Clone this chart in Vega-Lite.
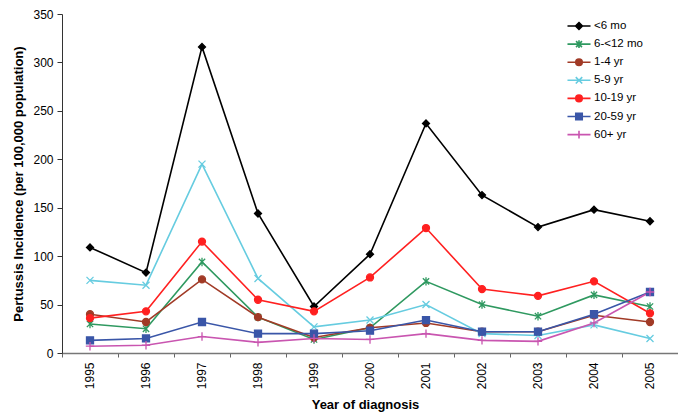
{
  "$schema": "https://vega.github.io/schema/vega-lite/v6.json",
  "width": 616,
  "height": 339,
  "autosize": {"type": "none"},
  "padding": {"left": 62, "top": 14, "right": 0, "bottom": 66},
  "background": "white",
  "config": {"font": "Liberation Sans", "view": {"stroke": null}},
  "data": {"values": [
    {"year": "1995", "group": "<6 mo", "value": 109},
    {"year": "1996", "group": "<6 mo", "value": 83},
    {"year": "1997", "group": "<6 mo", "value": 316},
    {"year": "1998", "group": "<6 mo", "value": 144},
    {"year": "1999", "group": "<6 mo", "value": 48},
    {"year": "2000", "group": "<6 mo", "value": 102},
    {"year": "2001", "group": "<6 mo", "value": 237},
    {"year": "2002", "group": "<6 mo", "value": 163},
    {"year": "2003", "group": "<6 mo", "value": 130},
    {"year": "2004", "group": "<6 mo", "value": 148},
    {"year": "2005", "group": "<6 mo", "value": 136},
    {"year": "1995", "group": "6-<12 mo", "value": 30},
    {"year": "1996", "group": "6-<12 mo", "value": 25},
    {"year": "1997", "group": "6-<12 mo", "value": 94},
    {"year": "1998", "group": "6-<12 mo", "value": 37},
    {"year": "1999", "group": "6-<12 mo", "value": 14},
    {"year": "2000", "group": "6-<12 mo", "value": 26},
    {"year": "2001", "group": "6-<12 mo", "value": 74},
    {"year": "2002", "group": "6-<12 mo", "value": 50},
    {"year": "2003", "group": "6-<12 mo", "value": 38},
    {"year": "2004", "group": "6-<12 mo", "value": 60},
    {"year": "2005", "group": "6-<12 mo", "value": 48},
    {"year": "1995", "group": "1-4 yr", "value": 40},
    {"year": "1996", "group": "1-4 yr", "value": 32},
    {"year": "1997", "group": "1-4 yr", "value": 76},
    {"year": "1998", "group": "1-4 yr", "value": 37},
    {"year": "1999", "group": "1-4 yr", "value": 16},
    {"year": "2000", "group": "1-4 yr", "value": 26},
    {"year": "2001", "group": "1-4 yr", "value": 31},
    {"year": "2002", "group": "1-4 yr", "value": 22},
    {"year": "2003", "group": "1-4 yr", "value": 22},
    {"year": "2004", "group": "1-4 yr", "value": 39},
    {"year": "2005", "group": "1-4 yr", "value": 32},
    {"year": "1995", "group": "5-9 yr", "value": 75},
    {"year": "1996", "group": "5-9 yr", "value": 70},
    {"year": "1997", "group": "5-9 yr", "value": 195},
    {"year": "1998", "group": "5-9 yr", "value": 77},
    {"year": "1999", "group": "5-9 yr", "value": 27},
    {"year": "2000", "group": "5-9 yr", "value": 34},
    {"year": "2001", "group": "5-9 yr", "value": 50},
    {"year": "2002", "group": "5-9 yr", "value": 20},
    {"year": "2003", "group": "5-9 yr", "value": 18},
    {"year": "2004", "group": "5-9 yr", "value": 29},
    {"year": "2005", "group": "5-9 yr", "value": 15},
    {"year": "1995", "group": "10-19 yr", "value": 36},
    {"year": "1996", "group": "10-19 yr", "value": 43},
    {"year": "1997", "group": "10-19 yr", "value": 115},
    {"year": "1998", "group": "10-19 yr", "value": 55},
    {"year": "1999", "group": "10-19 yr", "value": 43},
    {"year": "2000", "group": "10-19 yr", "value": 78},
    {"year": "2001", "group": "10-19 yr", "value": 129},
    {"year": "2002", "group": "10-19 yr", "value": 66},
    {"year": "2003", "group": "10-19 yr", "value": 59},
    {"year": "2004", "group": "10-19 yr", "value": 74},
    {"year": "2005", "group": "10-19 yr", "value": 41},
    {"year": "1995", "group": "20-59 yr", "value": 13},
    {"year": "1996", "group": "20-59 yr", "value": 15},
    {"year": "1997", "group": "20-59 yr", "value": 32},
    {"year": "1998", "group": "20-59 yr", "value": 20},
    {"year": "1999", "group": "20-59 yr", "value": 20},
    {"year": "2000", "group": "20-59 yr", "value": 23},
    {"year": "2001", "group": "20-59 yr", "value": 34},
    {"year": "2002", "group": "20-59 yr", "value": 22},
    {"year": "2003", "group": "20-59 yr", "value": 22},
    {"year": "2004", "group": "20-59 yr", "value": 40},
    {"year": "2005", "group": "20-59 yr", "value": 63},
    {"year": "1995", "group": "60+ yr", "value": 7},
    {"year": "1996", "group": "60+ yr", "value": 8},
    {"year": "1997", "group": "60+ yr", "value": 17},
    {"year": "1998", "group": "60+ yr", "value": 11},
    {"year": "1999", "group": "60+ yr", "value": 15},
    {"year": "2000", "group": "60+ yr", "value": 14},
    {"year": "2001", "group": "60+ yr", "value": 20},
    {"year": "2002", "group": "60+ yr", "value": 13},
    {"year": "2003", "group": "60+ yr", "value": 12},
    {"year": "2004", "group": "60+ yr", "value": 31},
    {"year": "2005", "group": "60+ yr", "value": 63}
  ]},
  "encoding": {
    "x": {
      "field": "year",
      "type": "ordinal",
      "scale": {"type": "band", "paddingInner": 0, "paddingOuter": 0},
      "axis": {
        "title": "Year of diagnosis",
        "titleFontSize": 13,
        "titleFontWeight": "bold",
        "titleColor": "black",
        "titleX": 303,
        "titleAlign": "center",
        "titlePadding": 10,
        "bandPosition": 0,
        "labelAngle": 270,
        "labelFontSize": 12,
        "labelColor": "black",
        "labelPadding": 5,
        "tickSize": 4,
        "tickColor": "#666666",
        "domainColor": "#777777",
        "domainWidth": 1.5,
        "grid": false
      }
    },
    "y": {
      "field": "value",
      "type": "quantitative",
      "scale": {"domain": [0, 350], "nice": false},
      "axis": {
        "title": "Pertussis Incidence (per 100,000 population)",
        "titleFontSize": 13,
        "titleFontWeight": "bold",
        "titleColor": "black",
        "titlePadding": 7,
        "values": [0, 50, 100, 150, 200, 250, 300, 350],
        "labelFontSize": 12,
        "labelColor": "black",
        "labelPadding": 4,
        "tickSize": 5,
        "tickColor": "#333333",
        "domainColor": "#333333",
        "grid": false
      }
    }
  },
  "layer": [
    {
      "mark": {"type": "line", "strokeWidth": 1.6},
      "encoding": {
        "color": {
          "field": "group",
          "type": "nominal",
          "scale": {
            "domain": ["<6 mo", "6-<12 mo", "1-4 yr", "5-9 yr", "10-19 yr", "20-59 yr", "60+ yr"],
            "range": ["#000000", "#2f9960", "#a13a26", "#66cce0", "#ff2020", "#3a56a8", "#c955b0"]
          },
          "legend": {
            "title": null,
            "orient": "none",
            "legendX": 507,
            "legendY": 2,
            "padding": 0,
            "symbolSize": 324,
            "symbolStrokeWidth": 1.6,
            "labelFontSize": 11.5,
            "labelColor": "black",
            "labelOffset": 5,
            "rowPadding": 1.1,
            "encode": {
              "symbols": {
                "update": {
                  "shape": {"signal": "datum.value === '<6 mo' ? 'M-1.28,0H1.28M0,-0.38L0.38,0L0,0.38L-0.38,0Z' : datum.value === '6-<12 mo' ? 'M-1.28,0H1.28M-0.33,-0.33L0.33,0.33M-0.33,0.33L0.33,-0.33M0,-0.42V0.42' : datum.value === '5-9 yr' ? 'M-1.28,0H1.28M-0.36,-0.36L0.36,0.36M-0.36,0.36L0.36,-0.36' : datum.value === '20-59 yr' ? 'M-1.28,0H1.28M-0.36,-0.36H0.36V0.36H-0.36Z' : datum.value === '60+ yr' ? 'M-1.28,0H1.28M0,-0.42V0.42' : 'M-1.28,0H1.28M0.36,0A0.36,0.36,0,1,1,-0.36,0A0.36,0.36,0,1,1,0.36,0Z'"},
                  "fill": {"scale": "color", "field": "value"},
                  "stroke": {"scale": "color", "field": "value"},
                  "strokeWidth": {"value": 1.6},
                  "opacity": {"value": 1}
                }
              }
            }
          }
        }
      }
    },
    {
      "mark": {"type": "point", "size": 49, "opacity": 1, "strokeWidth": 1.3},
      "encoding": {
        "shape": {
          "field": "group",
          "type": "nominal",
          "scale": {
            "domain": ["60+ yr", "20-59 yr", "10-19 yr", "5-9 yr", "1-4 yr", "6-<12 mo", "<6 mo"],
            "range": ["M-1.2,0H1.2M0,-1.2V1.2", "M-1,-1H1V1H-1Z", "M1,0A1,1,0,1,1,-1,0A1,1,0,1,1,1,0Z", "M-1,-1L1,1M-1,1L1,-1", "M1,0A1,1,0,1,1,-1,0A1,1,0,1,1,1,0Z", "M-0.9,-0.9L0.9,0.9M-0.9,0.9L0.9,-0.9M0,-1.2V1.2", "M0,-1L1,0L0,1L-1,0Z"]
          },
          "legend": null
        },
        "fill": {
          "field": "group",
          "type": "nominal",
          "scale": {
            "domain": ["60+ yr", "20-59 yr", "10-19 yr", "5-9 yr", "1-4 yr", "6-<12 mo", "<6 mo"],
            "range": ["#c955b0", "#3a56a8", "#ff2020", "#66cce0", "#a13a26", "#2f9960", "#000000"]
          },
          "legend": null
        },
        "stroke": {
          "field": "group",
          "type": "nominal",
          "scale": {
            "domain": ["60+ yr", "20-59 yr", "10-19 yr", "5-9 yr", "1-4 yr", "6-<12 mo", "<6 mo"],
            "range": ["#c955b0", "#3a56a8", "#ff2020", "#66cce0", "#a13a26", "#2f9960", "#000000"]
          },
          "legend": null
        }
      }
    }
  ]
}
